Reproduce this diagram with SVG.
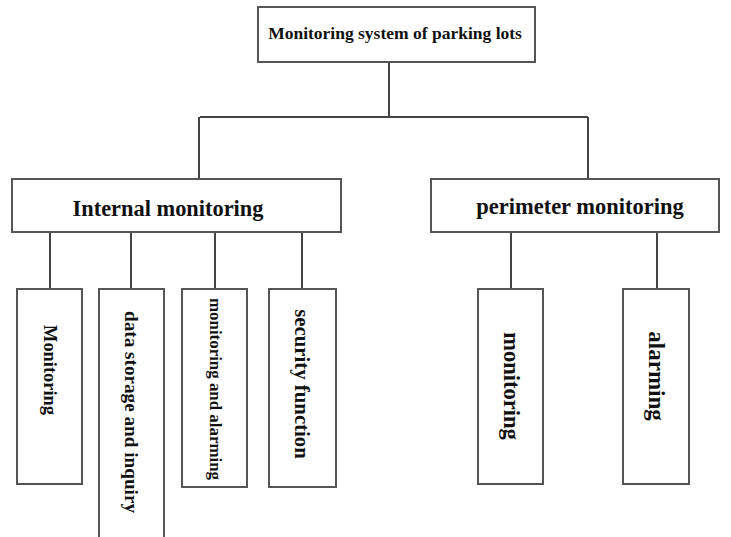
<svg xmlns="http://www.w3.org/2000/svg" width="731" height="537" viewBox="0 0 731 537">
<style>
.box{fill:#fff;stroke:#555;stroke-width:2}
.ln{stroke:#444;stroke-width:2;fill:none}
.t{font-family:"Liberation Serif","Times New Roman",serif;font-weight:bold;fill:#111;text-anchor:middle;dominant-baseline:central}
</style>
<rect width="731" height="537" fill="#fff"/>
<g id="connectors">
<path class="ln" d="M389 62V117M200 117H588M199 117V179M588 117V179"/>
<path class="ln" d="M50 232V289M131 232V289M215 232V289M302 232V289"/>
<path class="ln" d="M511 232V289M657 232V289"/>
</g>
<g id="root"><rect class="box" x="258" y="7" width="277" height="55"/><text class="t" x="395" y="33" font-size="17.5">Monitoring system of parking lots</text></g>
<g id="internal"><rect class="box" x="12" y="179" width="329" height="53"/><text class="t" x="168" y="208" font-size="22.4">Internal monitoring</text></g>
<g id="perimeter"><rect class="box" x="431" y="179" width="288" height="53"/><text class="t" x="580" y="206" font-size="22.5">perimeter monitoring</text></g>
<g id="n-monitoring"><rect class="box" x="17" y="289" width="65" height="195"/><text class="t" font-size="18.4" transform="translate(50,370) rotate(90)">Monitoring</text></g>
<g id="n-data"><rect class="box" x="99" y="289" width="65" height="250"/><text class="t" font-size="19.2" transform="translate(131,412) rotate(90)">data storage and inquiry</text></g>
<g id="n-monalarm"><rect class="box" x="182" y="289" width="65" height="198"/><text class="t" font-size="16.9" transform="translate(215,389) rotate(90)">monitoring and alarming</text></g>
<g id="n-security"><rect class="box" x="269" y="289" width="67" height="198"/><text class="t" font-size="20.8" transform="translate(302,384) rotate(90)">security function</text></g>
<g id="n-pmonitoring"><rect class="box" x="478" y="289" width="65" height="195"/><text class="t" font-size="22.5" transform="translate(511,386) rotate(90)">monitoring</text></g>
<g id="n-alarming"><rect class="box" x="623" y="289" width="66" height="195"/><text class="t" font-size="23" transform="translate(656,376) rotate(90)">alarming</text></g>
</svg>
